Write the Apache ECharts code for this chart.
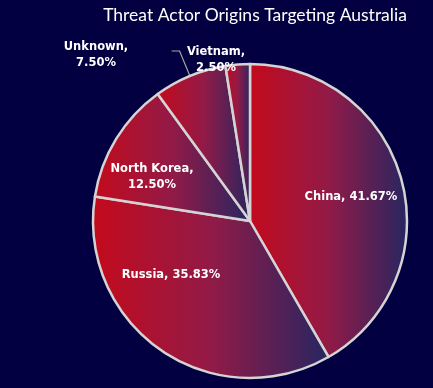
<!DOCTYPE html>
<html><head><meta charset="utf-8">
<script src="https://cdn.jsdelivr.net/npm/echarts@6/dist/echarts.min.js"></script>
<style>html,body{margin:0;padding:0;background:#020040;}#c{width:433px;height:388px;}</style>
</head><body><div id="c"></div>
<script>
const categories = ['China', 'Russia', 'North Korea', 'Unknown', 'Vietnam'];
const shares = [41.67, 35.83, 12.50, 7.50, 2.50];
const labelPos = [[351, 197], [171, 275], [152, 177], [96, 55], [216, 60]];

const grad = {
  type: 'linear', x: 0, y: 0, x2: 1, y2: 0,
  colorStops: [
    { offset: 0, color: '#c40a1c' },
    { offset: 0.5, color: '#921a47' },
    { offset: 1, color: '#262661' }
  ]
};

const chart = echarts.init(document.getElementById('c'));
chart.setOption({
  backgroundColor: '#020040',
  animation: false,
  title: {
    text: 'Threat Actor Origins Targeting Australia',
    left: 250, top: 1, textAlign: 'center',
    textStyle: { color: '#ffffff', fontFamily: 'Lato', fontSize: 17.5, fontWeight: 'normal' }
  },
  series: [{
    type: 'pie',
    center: [250, 221],
    radius: 157,
    startAngle: 90,
    clockwise: true,
    avoidLabelOverlap: false,
    itemStyle: { color: grad, borderColor: '#d4d4d4', borderWidth: 2.5 },
    label: {
      show: true,
      color: '#ffffff',
      fontFamily: 'DejaVu Sans',
      fontWeight: 'bold',
      fontSize: 11.5,
      lineHeight: 16,
      formatter: p => {
        const t = p.name + ', ' + p.value.toFixed(2) + '%';
        return p.dataIndex === 0 || p.dataIndex === 1 ? t : p.name + ',\n' + p.value.toFixed(2) + '%';
      }
    },
    labelLine: { show: true, length: 27, length2: 8, lineStyle: { color: '#a6a6a6', width: 1.2 } },
    labelLayout: p => {
      const o = { x: labelPos[p.dataIndex][0], y: labelPos[p.dataIndex][1], align: 'center', verticalAlign: 'middle' };
      if (p.dataIndex === 3 && p.labelLinePoints) o.labelLinePoints = p.labelLinePoints;
      return o;
    },
    data: categories.map((c, i) => ({
      name: c, value: shares[i],
      label: { position: i < 3 ? 'inside' : 'outside' },
      labelLine: { show: i === 3 }
    }))
  }]
});
</script></body></html>
